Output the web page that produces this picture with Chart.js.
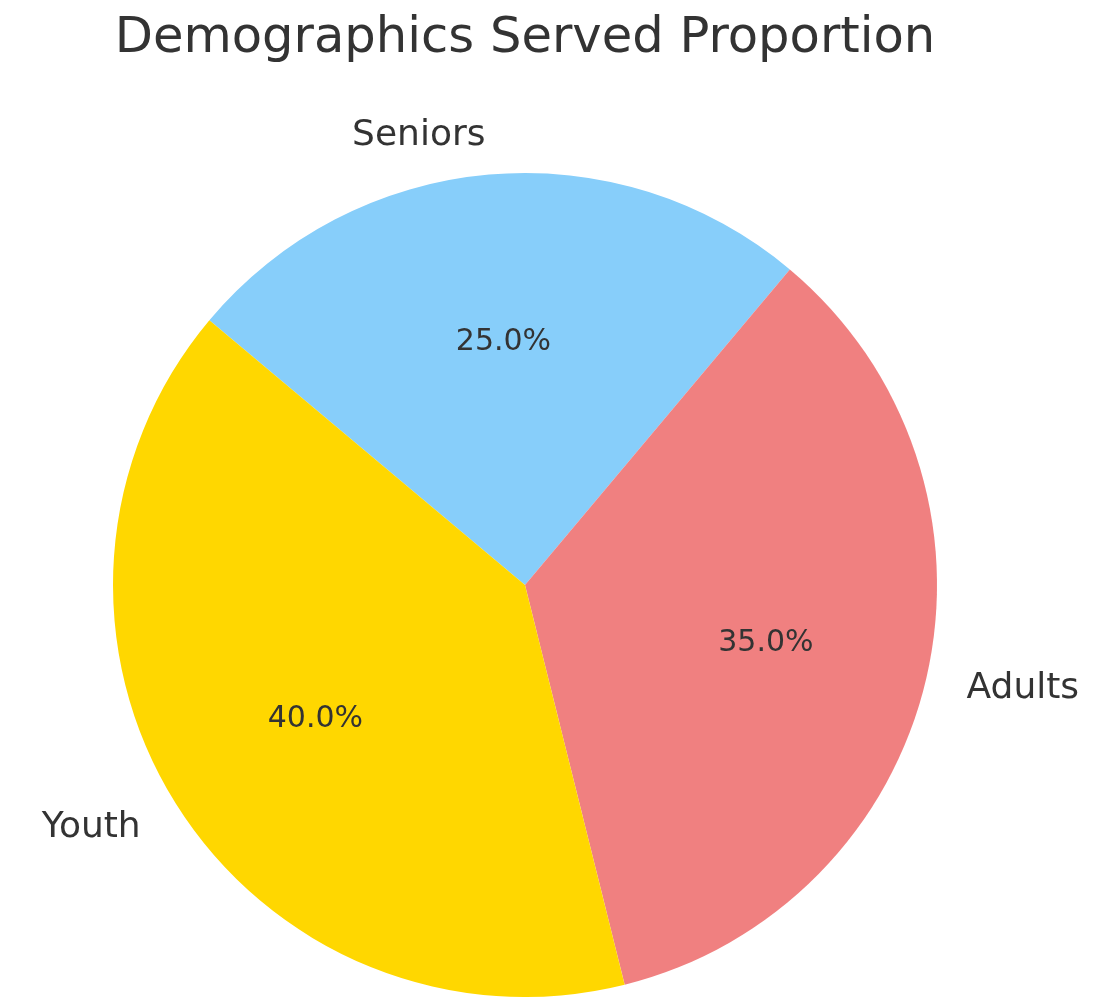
<!DOCTYPE html>
<html>
<head>
<meta charset="utf-8">
<script src="https://cdn.jsdelivr.net/npm/chart.js@4"></script>
<style>
  html, body { margin: 0; padding: 0; background: #fff; }
  #wrap { width: 1104px; height: 997px; position: relative; }
</style>
</head>
<body>
<div id="wrap"><canvas id="demoPie"></canvas></div>
<script>
// ─── DATA ───
const chartTitle = 'Demographics Served Proportion';
const categories = ['Seniors', 'Adults', 'Youth'];
const shares = [25, 35, 40];
const sliceColors = ['#87CEFA', '#F08080', '#FFD700'];

const TEXT = '#333333';
const FONT = '"DejaVu Sans", sans-serif';

// ─── LABELS: title, outer names, inner percentages ───
const pieText = {
  id: 'pieText',
  afterDraw(chart) {
    const { ctx } = chart;
    const arcs = chart.getDatasetMeta(0).data;
    const total = shares.reduce((a, b) => a + b, 0);
    ctx.save();
    ctx.fillStyle = TEXT;
    ctx.textBaseline = 'middle';

    ctx.font = '49.6px ' + FONT;
    ctx.textAlign = 'center';
    ctx.fillText(chartTitle, 525, 39);

    arcs.forEach((arc, i) => {
      const { x, y, outerRadius, startAngle, endAngle } = arc.getProps(['x', 'y', 'outerRadius', 'startAngle', 'endAngle'], true);
      const mid = (startAngle + endAngle) / 2;
      const cx = Math.cos(mid), cy = Math.sin(mid);

      // names sit outside the rim, anchored away from the centre
      ctx.font = '36px ' + FONT;
      ctx.textAlign = cx > 0 ? 'left' : 'right';
      ctx.fillText(categories[i], x + cx * outerRadius * 1.1, y + cy * outerRadius * 1.1 + 2);

      ctx.font = '30px ' + FONT;
      ctx.textAlign = 'center';
      const pct = (shares[i] / total * 100).toFixed(1) + '%';
      ctx.fillText(pct, x + cx * outerRadius * 0.6, y + cy * outerRadius * 0.6 + 3);
    });
    ctx.restore();
  }
};

// ─── CHART ───
new Chart(document.getElementById('demoPie'), {
  type: 'pie',
  data: {
    labels: categories,
    datasets: [{
      data: shares,
      backgroundColor: sliceColors,
      borderWidth: 0
    }]
  },
  options: {
    responsive: true,
    maintainAspectRatio: false,
    animation: false,
    rotation: -50,
    layout: { padding: { left: 113, right: 167, top: 173, bottom: 0 } },
    plugins: {
      legend: { display: false },
      tooltip: { enabled: false },
      title: { display: false }
    }
  },
  plugins: [pieText]
});
</script>
</body>
</html>
